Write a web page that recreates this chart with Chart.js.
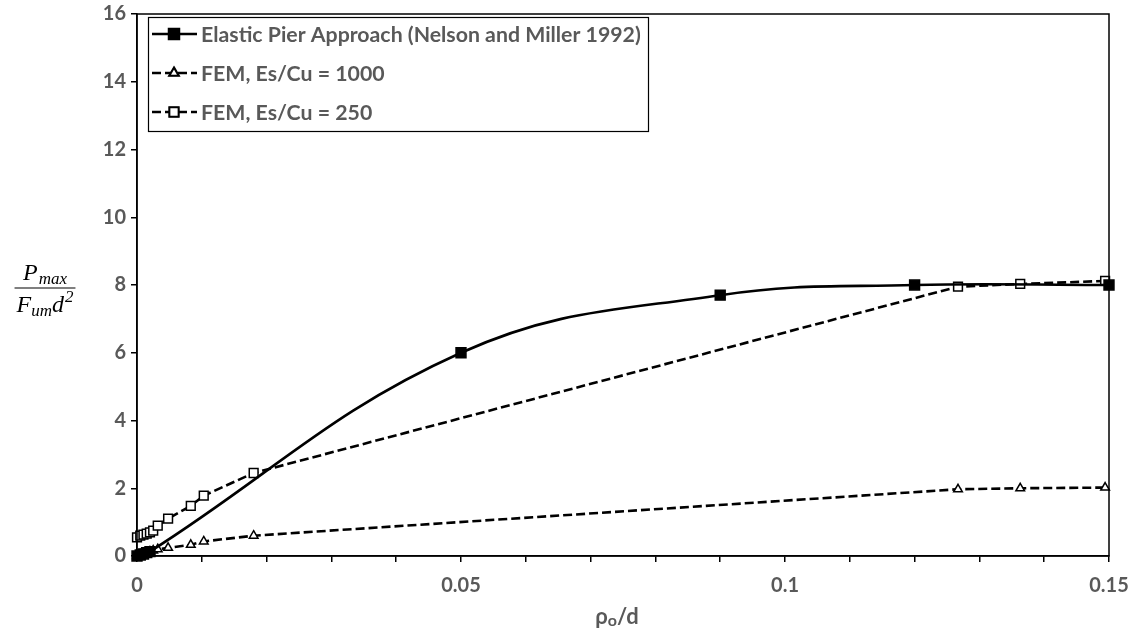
<!DOCTYPE html>
<html>
<head>
<meta charset="utf-8">
<script src="https://cdn.jsdelivr.net/npm/chart.js@4/dist/chart.umd.min.js"></script>
<style>
  html, body { margin: 0; padding: 0; background: #ffffff; }
  #wrap { width: 1133px; height: 634px; position: relative; }
</style>
</head>
<body>
<div id="wrap"><canvas id="chart" width="1133" height="634"></canvas></div>
<script>
// Series names
const seriesNames = [
  'Elastic Pier Approach (Nelson and Miller 1992)',
  'FEM, Es/Cu = 1000',
  'FEM, Es/Cu = 250'
];

// Elastic pier approach
const elasticX = [0, 0.0005, 0.001, 0.0015, 0.002, 0.05, 0.09, 0.12, 0.15];
const elasticY = [0, 0.03, 0.06, 0.10, 0.13, 6.0, 7.7, 8.0, 8.0];

// FEM results (shared abscissae)
const femX = [0, 0.0005, 0.001, 0.0015, 0.002, 0.0025, 0.0032, 0.0048, 0.0083, 0.0103, 0.018, 0.1267, 0.1363, 0.1494];
const fem1000Y = [0, 0.05, 0.08, 0.10, 0.13, 0.16, 0.20, 0.24, 0.33, 0.43, 0.60, 1.97, 2.00, 2.02];
const fem250Y = [0.55, 0.60, 0.63, 0.66, 0.70, 0.75, 0.90, 1.10, 1.48, 1.78, 2.45, 7.95, 8.03, 8.12];

// Axis ticks
const xLabelledTicks = [0, 0.05, 0.1, 0.15];
const xTickLabels = ['0', '0.05', '0.1', '0.15'];
const yTickLabels = ['0', '2', '4', '6', '8', '10', '12', '14', '16'];

const TEXT_GREY = '#595959';
const FONT = 'Lato';

const toPoints = (xs, ys) => xs.map((x, i) => ({ x: x, y: ys[i] }));

const styles = [
  { dash: [], pointStyle: 'rect', radius: 7, fill: '#000000' },
  { dash: [9, 4], pointStyle: 'triangle', radius: 5, fill: '#ffffff' },
  { dash: [9, 4], pointStyle: 'rect', radius: 6.2, fill: '#ffffff' }
];

const datasets = [
  { label: seriesNames[0], data: toPoints(elasticX, elasticY), tension: 0.4 },
  { label: seriesNames[1], data: toPoints(femX, fem1000Y), tension: 0 },
  { label: seriesNames[2], data: toPoints(femX, fem250Y), tension: 0 }
].map((d, i) => Object.assign(d, {
  showLine: true,
  borderColor: '#000000',
  borderWidth: 2.6,
  borderDash: styles[i].dash,
  pointStyle: styles[i].pointStyle,
  pointRadius: styles[i].radius,
  pointBackgroundColor: styles[i].fill,
  pointBorderColor: '#000000',
  pointBorderWidth: 1.5,
  pointHoverRadius: styles[i].radius,
  clip: 12
}));

// Box around the plot area, legend panel, and both axis titles
const decorations = {
  id: 'decorations',
  afterDraw(chart) {
    const ctx = chart.ctx;
    const a = chart.chartArea;
    ctx.save();

    // plot frame
    ctx.strokeStyle = '#000000';
    ctx.lineWidth = 1.5;
    ctx.setLineDash([]);
    ctx.strokeRect(a.left, a.top, a.right - a.left, a.bottom - a.top);

    // legend text size chosen so the longest entry spans the panel
    ctx.font = 'bold 100px ' + FONT;
    const longest = Math.max(...chart.data.datasets.map(d => ctx.measureText(d.label).width));
    const legendSize = Math.min(24, 100 * 440 / longest);

    // legend panel
    const lx = 148, ly = 17, lw = 500, lh = 114;
    ctx.fillStyle = '#ffffff';
    ctx.fillRect(lx, ly, lw, lh);
    ctx.strokeStyle = '#000000';
    ctx.lineWidth = 1.2;
    ctx.strokeRect(lx + 0.5, ly + 0.5, lw, lh);

    const rows = [34, 73, 112];
    chart.data.datasets.forEach((ds, i) => {
      const y = rows[i];
      ctx.strokeStyle = '#000000';
      ctx.lineWidth = 2.6;
      ctx.setLineDash(ds.borderDash);
      ctx.beginPath();
      ctx.moveTo(152, y);
      ctx.lineTo(197, y);
      ctx.stroke();
      ctx.setLineDash([]);
      Chart.helpers.drawPoint(ctx, {
        pointStyle: ds.pointStyle,
        radius: ds.pointRadius,
        borderWidth: ds.pointBorderWidth,
        rotation: 0
      }, 174, y);
      ctx.fillStyle = ds.pointBackgroundColor;
      ctx.fill();
      ctx.lineWidth = ds.pointBorderWidth;
      ctx.stroke();
      ctx.fillStyle = TEXT_GREY;
      ctx.font = 'bold ' + legendSize.toFixed(2) + 'px ' + FONT;
      ctx.textAlign = 'left';
      ctx.textBaseline = 'middle';
      ctx.fillText(ds.label, 201, y + 1);
    });

    // y-axis title: P_max / (F_um d^2)
    const big = 'italic 24px "Liberation Serif"';
    const small = 'italic 17px "Liberation Serif"';
    const cx = 45;
    ctx.fillStyle = '#000000';
    ctx.textBaseline = 'alphabetic';
    ctx.textAlign = 'left';
    const w = (f, s) => { ctx.font = f; return ctx.measureText(s).width; };
    const nW = w(big, 'P') + w(small, 'max') + 1;
    let x = cx - nW / 2;
    ctx.font = big; ctx.fillText('P', x, 280); x += w(big, 'P') + 1;
    ctx.font = small; ctx.fillText('max', x, 284);
    const dW = w(big, 'F') + w(small, 'um') + w(big, 'd') + w(small, '2') + 1;
    x = cx - dW / 2;
    ctx.font = big; ctx.fillText('F', x, 312); x += w(big, 'F');
    ctx.font = small; ctx.fillText('um', x, 316); x += w(small, 'um');
    ctx.font = big; ctx.fillText('d', x, 312); x += w(big, 'd') + 1;
    ctx.font = small; ctx.fillText('2', x, 302);
    ctx.lineWidth = 1.2;
    ctx.beginPath();
    ctx.moveTo(cx - Math.max(nW, dW) / 2 - 2, 288);
    ctx.lineTo(cx + Math.max(nW, dW) / 2 + 2, 288);
    ctx.stroke();

    // x-axis title: rho_o / d
    const tBig = 'bold 22px ' + FONT;
    const tSmall = 'bold 16px ' + FONT;
    const tx = 617;
    const tW = w(tBig, 'ρ') + w(tSmall, 'o') + w(tBig, '/d');
    x = tx - tW / 2;
    ctx.fillStyle = TEXT_GREY;
    ctx.font = tBig; ctx.fillText('ρ', x, 624); x += w(tBig, 'ρ');
    ctx.font = tSmall; ctx.fillText('o', x, 626); x += w(tSmall, 'o');
    ctx.font = tBig; ctx.fillText('/d', x, 624);

    ctx.restore();
  }
};

new Chart(document.getElementById('chart'), {
  type: 'scatter',
  data: { datasets: datasets },
  options: {
    responsive: false,
    animation: false,
    events: [],
    layout: { padding: { top: 14, right: 24, left: 0, bottom: 0 } },
    plugins: {
      legend: { display: false },
      tooltip: { enabled: false }
    },
    scales: {
      x: {
        type: 'linear',
        min: 0,
        max: 0.15,
        afterFit(scale) {
          scale.height = 78;
          scale.paddingLeft = 0;
          scale.paddingRight = 0;
        },
        afterBuildTicks(scale) {
          scale.ticks = Array.from({ length: 16 }, (_, i) => ({ value: +(i * 0.01).toFixed(2) }));
        },
        ticks: {
          color: TEXT_GREY,
          font: { family: FONT, size: 20, weight: 'bold' },
          padding: 12,
          maxRotation: 0,
          autoSkip: false,
          callback(value) {
            const idx = xLabelledTicks.findIndex(t => Math.abs(t - value) < 1e-6);
            return idx >= 0 ? xTickLabels[idx] : '';
          }
        },
        grid: {
          drawOnChartArea: false,
          drawTicks: true,
          tickLength: 6,
          color: '#000000',
          lineWidth: 1.5
        },
        border: { color: '#000000', width: 1.5 }
      },
      y: {
        type: 'linear',
        min: 0,
        max: 16,
        afterFit(scale) {
          scale.width = 137;
          scale.paddingTop = 0;
          scale.paddingBottom = 0;
        },
        afterBuildTicks(scale) {
          scale.ticks = yTickLabels.map(t => ({ value: Number(t) }));
        },
        ticks: {
          color: TEXT_GREY,
          font: { family: FONT, size: 20, weight: 'bold' },
          padding: 5,
          callback(value) {
            const idx = yTickLabels.indexOf(String(value));
            return idx >= 0 ? yTickLabels[idx] : '';
          }
        },
        grid: {
          drawOnChartArea: false,
          drawTicks: true,
          tickLength: 6,
          color: '#000000',
          lineWidth: 1.5
        },
        border: { color: '#000000', width: 1.5 }
      }
    }
  },
  plugins: [decorations]
});
</script>
</body>
</html>
